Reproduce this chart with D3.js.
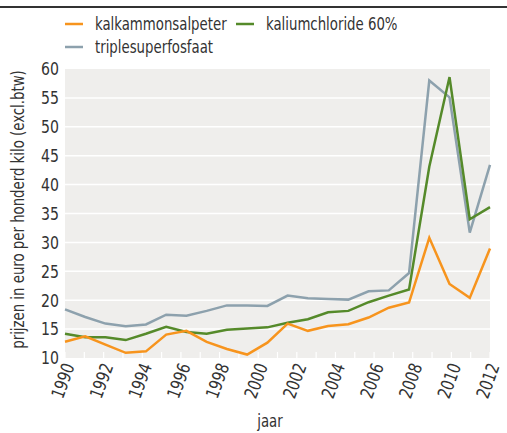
<!DOCTYPE html>
<html><head><meta charset="utf-8">
<script src="https://cdn.jsdelivr.net/npm/d3@7"></script>
<style>
body{margin:0;background:#fff;}
text{font-family:"DejaVu Sans",sans-serif;font-stretch:condensed;fill:#333;}
</style></head><body>
<svg id="c" width="507" height="433"></svg>
<script>
const dataYears = [1990,1991,1992,1993,1994,1995,1996,1997,1998,1999,2000,2001,2002,2003,2004,2005,2006,2007,2008,2009,2010,2011];
const tickYears = [1990,1992,1994,1996,1998,2000,2002,2004,2006,2008,2010,2012];
const yTicks = [10,15,20,25,30,35,40,45,50,55,60];
const kalkammonsalpeter = [12.8,13.75,12.3,10.9,11.15,14.05,14.7,12.8,11.55,10.6,12.65,15.95,14.7,15.55,15.85,17.0,18.7,19.6,30.8,22.8,20.4,28.95];
const kaliumchloride = [14.2,13.6,13.6,13.1,14.2,15.4,14.5,14.2,14.9,15.1,15.3,16.1,16.7,17.9,18.15,19.65,20.8,21.85,43.1,58.6,34.0,36.1];
const triplesuperfosfaat = [18.4,17.1,15.95,15.5,15.8,17.5,17.3,18.15,19.1,19.1,19.0,20.8,20.35,20.2,20.1,21.55,21.7,24.7,58.0,55.1,31.7,43.4];
const seriesNames = ["kalkammonsalpeter","kaliumchloride 60%","triplesuperfosfaat"];
const colors = ["#f7941d","#558a2a","#8da1ad"];
const seriesData = [kalkammonsalpeter, kaliumchloride, triplesuperfosfaat];

const svg = d3.select("#c");
const L = 65, R = 490, T = 69, B = 358;

svg.append("rect").attr("x",0).attr("y",6).attr("width",507).attr("height",2).attr("fill","#333");

const xAxisScale = d3.scaleLinear().domain([1990,2012]).range([L,R]);
const xData = d3.scaleLinear().domain([d3.min(dataYears), d3.max(dataYears)]).range([L,R]);
const y = d3.scaleLinear().domain([10,60]).range([B,T]);

svg.append("rect").attr("x",L).attr("y",T).attr("width",R-L).attr("height",B-T).attr("fill","#efeeec");

svg.append("g").selectAll("line").data(yTicks.filter(d=>d>10 && d<60)).join("line")
  .attr("x1",L).attr("x2",R).attr("y1",d=>y(d)).attr("y2",d=>y(d))
  .attr("stroke","#fff").attr("stroke-width",1.5);

svg.append("g").selectAll("line").data(d3.range(1990,2013)).join("line")
  .attr("x1",d=>xAxisScale(d)).attr("x2",d=>xAxisScale(d)).attr("y1",B).attr("y2",B-6)
  .attr("stroke","#fff").attr("stroke-width",1.2);

function ntext(g, x, y, rot, str, size, anchor){
  return g.append("text")
    .attr("transform",`translate(${x},${y}) rotate(${rot}) scale(0.87,1)`)
    .attr("text-anchor",anchor).attr("dy","0.35em").attr("font-size",size).text(str);
}

const yg = svg.append("g");
yTicks.forEach(d=>ntext(yg, L-6, y(d), 0, d, 18, "end"));

const xg = svg.append("g");
tickYears.forEach(d=>ntext(xg, xAxisScale(d)+4, B+6, -70, d, 18, "end"));

ntext(svg, 270, 421, 0, "jaar", 17, "middle");
ntext(svg, 18, (T+B)/2 - 4, -90, "prijzen in euro per honderd kilo (excl.btw)", 17, "middle");

const line = d3.line().x((d,i)=>xData(dataYears[i])).y(d=>y(d));
[2,1,0].forEach(k=>{
  svg.append("path").datum(seriesData[k]).attr("d",line).attr("fill","none")
    .attr("stroke",colors[k]).attr("stroke-width",2.5).attr("stroke-linejoin","miter");
});

const leg = [{i:0,x:65,y:24},{i:1,x:236,y:24},{i:2,x:65,y:47}];
leg.forEach(o=>{
  svg.append("line").attr("x1",o.x).attr("x2",o.x+18).attr("y1",o.y).attr("y2",o.y)
    .attr("stroke",colors[o.i]).attr("stroke-width",2.5);
  ntext(svg, o.x+30, o.y, 0, seriesNames[o.i], 17, "start");
});
</script></body></html>
